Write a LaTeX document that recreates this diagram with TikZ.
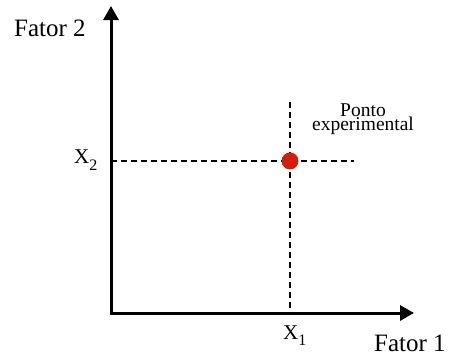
\documentclass[tikz,border=0pt]{standalone}
\usepackage{fontspec}
\setmainfont{Liberation Serif}
\usetikzlibrary{arrows.meta}
\definecolor{ptred}{HTML}{D0200C}
\newcommand{\subidx}[1]{\raisebox{-6pt}{\fontsize{16}{16}\selectfont #1}}
\begin{document}
\begin{tikzpicture}[x=1pt,y=-1pt,
  axis/.style={line width=3pt,-{Triangle[width=15pt,length=14pt]}},
  guide/.style={line width=1.8pt,dash pattern=on 6pt off 4pt},
  lbl/.style={inner sep=0pt,font=\fontsize{21}{21}\selectfont},
  big/.style={inner sep=0pt,font=\fontsize{25}{25}\selectfont}]
\useasboundingbox (0,0) rectangle (451,356);
\coordinate (O) at (111,313);
\coordinate (Ytip) at (111,6);
\coordinate (Xtip) at (414,313);
\coordinate (Vtop) at (290,102);
\coordinate (Vbot) at (290,313);
\coordinate (Hleft) at (111,161);
\coordinate (Hright) at (354,161);
\draw[guide] (Vtop) -- (Vbot);
\draw[guide] (Hleft) -- (Hright);
\draw[axis] (O) -- (Ytip);
\draw[axis] ([xshift=-1.5pt]O) -- (Xtip);
\node[circle,fill=ptred,minimum size=17pt,inner sep=0pt] (P) at (290,161) {};
\node[big,anchor=base west] (F2) at (14,36) {Fator 2};
\node[big,anchor=base west] (F1) at (374,351) {Fator 1};
\node[lbl,anchor=base west] (X1) at (283,339) {X\subidx{1}};
\node[lbl,anchor=base west] (X2) at (74,164) {X\subidx{2}};
\node[inner sep=0pt,align=center,font=\fontsize{19.5}{15}\selectfont,anchor=base] (PE) at (363,131) {Ponto\\experimental};
\end{tikzpicture}
\end{document}
